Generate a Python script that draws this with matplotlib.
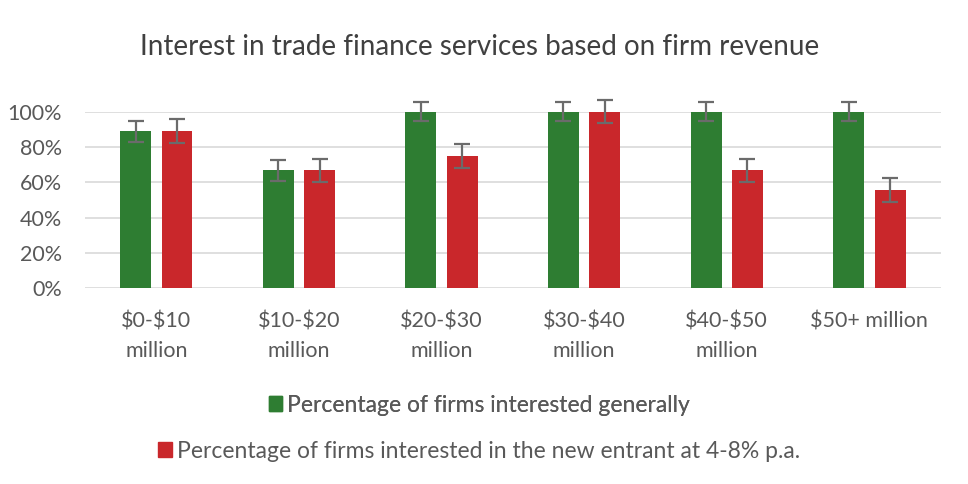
import matplotlib
matplotlib.use("Agg")
import matplotlib.pyplot as plt
import numpy as np
from matplotlib.patches import Patch

categories = ["$0-$10\nmillion", "$10-$20\nmillion", "$20-$30\nmillion",
              "$30-$40\nmillion", "$40-$50\nmillion", "$50+ million"]
general = [88.9, 66.7, 100, 100, 100, 100]
general_err = [5.8, 5.8, 5.5, 5.5, 5.5, 5.5]
new_entrant = [88.9, 66.7, 75.0, 100, 66.7, 55.6]
new_entrant_err = [6.8, 6.5, 7.0, 6.5, 6.5, 6.8]
series_names = ["Percentage of firms interested generally",
                "Percentage of firms interested in the new entrant at 4-8% p.a."]
yticks = [0, 20, 40, 60, 80, 100]

GREEN = "#2E7D32"
RED = "#C9272B"
TXT = "#595959"

plt.rcParams['font.family'] = ['Lato', 'DejaVu Sans']
plt.rcParams['text.parse_math'] = False

fig = plt.figure(figsize=(9.68, 4.84), dpi=100)
ax = fig.add_axes([0.0878, 0.405, 0.884, 0.364])

x = np.arange(len(categories))
w = 0.217
off = 0.145
ekw = dict(ecolor="#6b6b6b", elinewidth=1.6, capsize=5.5, capthick=1.6)
b1 = ax.bar(x - off, general, w, color=GREEN, yerr=general_err, error_kw=ekw, zorder=3)
b2 = ax.bar(x + off, new_entrant, w, color=RED, yerr=new_entrant_err, error_kw=ekw, zorder=3)
for c in list(b1.errorbar.lines[1]) + list(b1.errorbar.lines[2]) + list(b2.errorbar.lines[1]) + list(b2.errorbar.lines[2]):
    c.set_clip_on(False)

ax.set_xlim(-0.5, len(categories) - 0.5)
ax.set_ylim(0, 100)
ax.set_yticks(yticks)
ax.set_yticklabels([f"{v}%" for v in yticks])
ax.set_xticks(x)
ax.set_xticklabels(categories, linespacing=1.6)
ax.grid(axis="y", color="#d9d9d9", linewidth=1.2, zorder=0)
ax.set_axisbelow(True)
for s in ax.spines.values():
    s.set_visible(False)
ax.tick_params(axis="both", length=0, labelsize=15.5, colors=TXT)
ax.tick_params(axis="x", pad=17)
ax.tick_params(axis="y", pad=16.5)

fig.text(0.495, 0.903, "Interest in trade finance services based on firm revenue",
         ha="center", va="center", fontsize=20, color="#404040")

h1 = Patch(color=GREEN)
h2 = Patch(color=RED)
leg1 = fig.legend([h1], [series_names[0]], loc="center", bbox_to_anchor=(0.495, 0.163),
                  frameon=False, fontsize=16.5, handlelength=0.6, handleheight=0.6,
                  handletextpad=0.2, labelcolor=TXT)
leg2 = fig.legend([h2], [series_names[1]], loc="center", bbox_to_anchor=(0.495, 0.068),
                  frameon=False, fontsize=16.5, handlelength=0.6, handleheight=0.6,
                  handletextpad=0.2, labelcolor=TXT)
fig.add_artist(leg1)

fig.savefig("out.png", dpi=100, facecolor="white")
